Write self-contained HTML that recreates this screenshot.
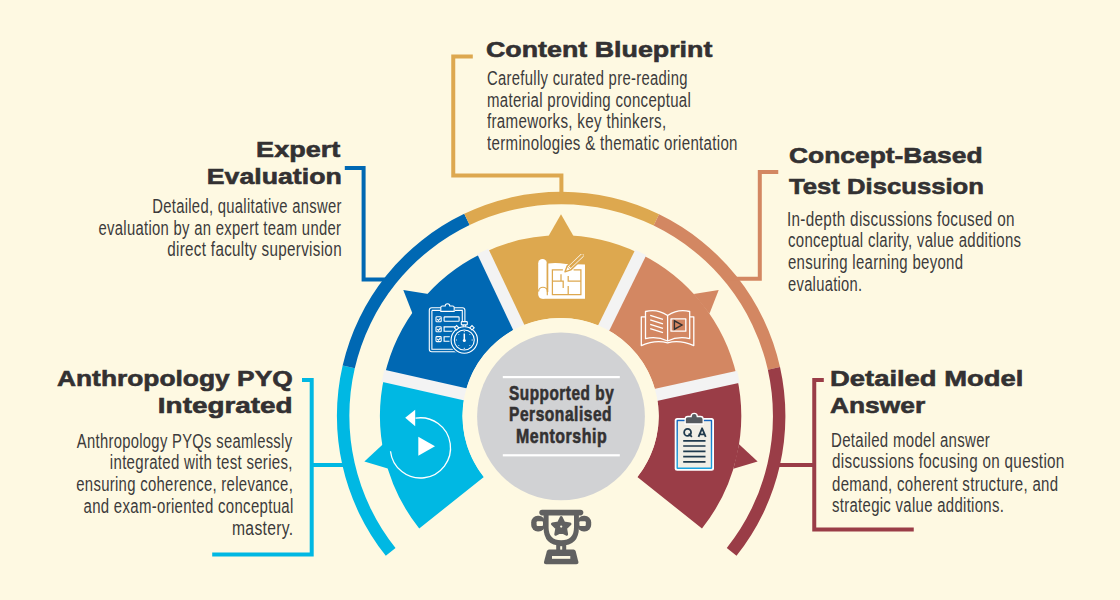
<!DOCTYPE html>
<html><head><meta charset="utf-8"><style>
html,body{margin:0;padding:0;}
body{width:1120px;height:600px;background:#FEF9E2;position:relative;overflow:hidden;font-family:"Liberation Sans",sans-serif;}
div{white-space:nowrap;line-height:1;}
svg{position:absolute;left:0;top:0;}
</style></head><body>
<svg width="1120" height="600" viewBox="0 0 1120 600">
<path d="M385.80,555.78 A224.25,224.25 0 0 1 342.65,365.55 L354.78,368.36 A211.8,211.8 0 0 0 395.53,548.02 Z" fill="#00B8E3"/>
<path d="M342.65,365.55 A224.25,224.25 0 0 1 464.25,213.76 L469.63,224.99 A211.8,211.8 0 0 0 354.78,368.36 Z" fill="#0068B3"/>
<path d="M464.25,213.76 A224.25,224.25 0 0 1 659.10,214.27 L653.66,225.47 A211.8,211.8 0 0 0 469.63,224.99 Z" fill="#DDA84F"/>
<path d="M659.10,214.27 A224.25,224.25 0 0 1 780.00,367.08 L767.85,369.80 A211.8,211.8 0 0 0 653.66,225.47 Z" fill="#D38762"/>
<path d="M780.00,367.08 A224.25,224.25 0 0 1 736.50,555.78 L726.77,548.02 A211.8,211.8 0 0 0 767.85,369.80 Z" fill="#9A3D47"/>
<path d="M419.22,528.46 A180.65,180.65 0 0 1 384.44,375.98 L464.94,394.27 A98.1,98.1 0 0 0 483.83,477.07 Z" fill="#00B8E3"/>
<path d="M388.59,468.73 L364.37,461.40 L382.93,444.18 Z" fill="#00B8E3"/>
<path d="M384.44,375.98 A180.65,180.65 0 0 1 482.26,253.22 L518.06,327.60 A98.1,98.1 0 0 0 464.94,394.27 Z" fill="#0068B3"/>
<path d="M412.58,313.64 L403.29,290.10 L428.30,293.95 Z" fill="#0068B3"/>
<path d="M482.26,253.22 A180.65,180.65 0 0 1 638.94,253.22 L603.14,327.60 A98.1,98.1 0 0 0 518.06,327.60 Z" fill="#DDA84F"/>
<path d="M548.40,236.15 L561.00,214.20 L573.60,236.15 Z" fill="#DDA84F"/>
<path d="M638.94,253.22 A180.65,180.65 0 0 1 736.76,375.98 L656.26,394.27 A98.1,98.1 0 0 0 603.14,327.60 Z" fill="#D38762"/>
<path d="M693.70,293.95 L718.71,290.10 L709.42,313.64 Z" fill="#D38762"/>
<path d="M736.76,375.98 A180.65,180.65 0 0 1 701.98,528.46 L637.37,477.07 A98.1,98.1 0 0 0 656.26,394.27 Z" fill="#9A3D47"/>
<path d="M739.07,444.18 L757.63,461.40 L733.41,468.73 Z" fill="#9A3D47"/>
<path d="M464.55,400.48 L381.61,381.64 L384.34,369.65 L467.28,388.49 Z" fill="#F3F3F3"/>
<path d="M513.54,330.84 L477.20,253.95 L488.32,248.69 L524.66,325.59 Z" fill="#F3F3F3"/>
<path d="M597.80,326.10 L635.21,249.72 L646.26,255.13 L608.84,331.51 Z" fill="#F3F3F3"/>
<path d="M654.10,389.09 L737.16,370.79 L739.80,382.80 L656.75,401.11 Z" fill="#F3F3F3"/>
<circle cx="560.6" cy="416.0" r="98.1" fill="#FEF9E2"/>
<circle cx="561.0" cy="416.4" r="83.9" fill="#D1D2D4"/>
<rect x="502.8" y="376" width="117" height="2.2" fill="#fff"/>
<rect x="502.8" y="454.2" width="117" height="2.2" fill="#fff"/>
<path d="M472.80,56.50 L453.25,56.50 L453.25,175.50 L561.40,175.50 L561.40,196.00" fill="none" stroke="#DDA84F" stroke-width="4" stroke-linejoin="miter" stroke-linecap="butt"/>
<path d="M344.80,168.00 L363.60,168.00 L363.60,279.60 L395.00,279.60" fill="none" stroke="#0068B3" stroke-width="4" stroke-linejoin="miter" stroke-linecap="butt"/>
<path d="M778.25,172.10 L759.80,172.10 L759.80,278.70 L725.00,278.70" fill="none" stroke="#D38762" stroke-width="4" stroke-linejoin="miter" stroke-linecap="butt"/>
<path d="M823.80,380.10 L814.25,380.10 L814.25,529.60 L913.75,529.60" fill="none" stroke="#9A3D47" stroke-width="4" stroke-linejoin="miter" stroke-linecap="butt"/>
<path d="M775.00,465.00 L814.25,465.00" fill="none" stroke="#9A3D47" stroke-width="4" stroke-linejoin="miter" stroke-linecap="butt"/>
<path d="M302.00,380.00 L311.70,380.00 L311.70,554.50 L212.20,554.50" fill="none" stroke="#00B8E3" stroke-width="4" stroke-linejoin="miter" stroke-linecap="butt"/>
<path d="M311.70,465.00 L346.00,465.00" fill="none" stroke="#00B8E3" stroke-width="4" stroke-linejoin="miter" stroke-linecap="butt"/>
<!-- blueprint icon -->
<g>
  <rect x="538.2" y="259" width="8.6" height="39.7" rx="4.2" fill="#fff"/>
  <path d="M548.3,263.5 Q556,262.3 566,264 L585,264.5 V298.7 H542.5 V292 H548.3 Z" fill="#fff"/>
  <path d="M547.3,263 V295.2 M538.6,291.6 A4.35,4.35 0 0 1 547.3,291.6" fill="none" stroke="#DDA84F" stroke-width="1.2"/>
  <g fill="none" stroke="#DDA84F" stroke-width="1.25">
    <path d="M562.9,269.9 H552.4 V294.6 H580.9 V269.9 H573.6"/>
    <path d="M561,274.3 V281 M552.4,281 H563.2 V288"/>
    <path d="M568.2,275.9 V281 H580.9 M568.2,286 V294.6"/>
  </g>
  <path d="M565.00,271.80 L570.77,269.87 L584.22,256.98 L584.30,253.30 L580.62,253.22 L567.17,266.12 Z" fill="#fff" stroke="#DDA84F" stroke-width="1.4" stroke-linejoin="round"/>
  <path d="M570.74,268.10 L583.32,256.04 L583.29,254.27 L581.52,254.16 L568.94,266.23 Z" fill="#DDA84F"/>
  <path d="M570.63,270.01 L567.03,266.26" stroke="#DDA84F" stroke-width="0.9"/>
</g>
<!-- clipboard + stopwatch icon -->
<g fill="none" stroke="#fff" stroke-width="1.1">
  <rect x="429.3" y="307.8" width="35.6" height="44" rx="2.5"/>
  <path d="M431.9,310.4 H440.6 M455,310.4 H462.3 V335 M431.9,310.4 V349.2 H455"/>
  <path d="M440.8,311.4 V307.5 Q440.8,306 442.3,306 H445.2 A2.3,2.3 0 0 1 449.8,306 H452.6 Q454.2,306 454.2,307.5 V311.4 Z" fill="#0068B3"/>
  <rect x="436" y="316.8" width="5.2" height="5" rx="0.8"/>
  <rect x="436" y="326.7" width="5.2" height="5" rx="0.8"/>
  <rect x="436" y="336.6" width="5.2" height="5" rx="0.8"/>
  <path d="M437.2,319.2 L438.5,320.5 L440.5,318 M437.2,329.1 L438.5,330.4 L440.5,327.9 M437.2,339 L438.5,340.3 L440.5,337.8"/>
  <rect x="444.1" y="316.9" width="15" height="4.3" rx="0.5"/>
  <path d="M456,326.9 H444.1 V331.3 H455 M455,336.8 H444.1 V341.2 H455"/>
  <circle cx="464.3" cy="340" r="13.2" fill="#0068B3" stroke="#0068B3" stroke-width="3.5"/>
  <circle cx="464.3" cy="340" r="13.2"/>
  <circle cx="464.3" cy="340" r="10"/>
  <rect x="461.3" y="321.6" width="6" height="3.3" rx="0.6" fill="#0068B3"/>
  <path d="M463.2,325 V326.8 M465.4,325 V326.8"/>
  <path d="M454.4,327.8 l2.2,-2.2 l2.2,2.2 l-2.2,2.2 Z M474.2,327.8 l-2.2,-2.2 l-2.2,2.2 l2.2,2.2 Z" fill="#0068B3"/>
  <path d="M464.3,333.5 V340.5" stroke-width="1.5"/>
  <path d="M464.3,331 V332.2 M464.3,347.8 V349 M455.8,340 H457 M471.6,340 H472.8 M458.3,334 l0.8,0.8 M470.3,334 l-0.8,0.8 M458.3,346 l0.8,-0.8 M470.3,346 l-0.8,-0.8" stroke-width="0.9"/>
</g>
<circle cx="464.3" cy="340.5" r="1.5" fill="#fff"/>
<!-- book icon -->
<g fill="none" stroke="#fff" stroke-width="1.3" stroke-linejoin="round">
  <path d="M645.5,316.8 H641.3 V345.6 Q655,339.5 667.6,342.8 Q680,339.5 693.8,345.6 V316.8 H689.7"/>
  <path d="M645.5,311.5 Q657,308.5 667.6,315.5 Q678,308.5 689.7,311.5 V338.6 Q678,336 667.6,341 Q657,336 645.5,338.6 Z"/>
  <path d="M667.6,315.5 V341"/>
  <path d="M650.2,315.3 L663,319.3 M650.2,319.8 L663,323.8 M650.2,324.3 L663,328.3 M650.2,328.6 L663,332.6"/>
  <rect x="671" y="318.9" width="14.8" height="12.3"/>
</g>
<path d="M674.4,320.8 V329.2 L682,325 Z" fill="none" stroke="#333132" stroke-width="1.4" stroke-linejoin="miter"/>
<!-- QA clipboard icon -->
<g>
  <rect x="674.7" y="418" width="39.3" height="52.7" rx="2.5" fill="#fff"/>
  <defs><linearGradient id="qg" x1="0" y1="0" x2="0" y2="1"><stop offset="0" stop-color="#1565BF"/><stop offset="1" stop-color="#1AA3E0"/></linearGradient></defs><rect x="676.5" y="419.8" width="35.7" height="49.1" rx="1" fill="url(#qg)"/>
  <rect x="677.9" y="421.2" width="32.9" height="46.3" fill="#F1EFE6"/>
  <path d="M685.2,424 V419.2 Q685.2,416.5 687.9,416.5 H691.1 A3.1,3.1 0 0 1 697.3,416.5 H700.5 Q703.2,416.5 703.2,419.2 V424 Z" fill="#555A5F" stroke="#fff" stroke-width="1.3"/>
  <circle cx="687.6" cy="432.4" r="3.45" fill="none" stroke="#1F3A4D" stroke-width="1.8"/>
  <path d="M688.6,433.6 L691.9,436.9" stroke="#1F3A4D" stroke-width="1.7"/>
  <path d="M698.5,436.8 L702.1,428.3 L705.7,436.8 M699.9,434.3 H704.3" fill="none" stroke="#1F3A4D" stroke-width="1.8" stroke-linejoin="round"/>
  <g stroke="#1F3A4D" stroke-width="1.7">
    <path d="M683.2,440.8 H705.5 M683.2,446 H705.5 M683.2,451.3 H705.5 M683.2,456.6 H705.5 M683.2,461.9 H705.5"/>
  </g>
</g>
<!-- replay icon -->
<g>
  <path d="M415.5,418.2 A30.1,30.1 0 1 1 390.5,451.2" fill="none" stroke="#fff" stroke-width="1.3"/>
  <path d="M405.2,417.8 L415.2,409.7 V426.2 Z" fill="#fff"/>
  <path d="M418.3,436.7 L435,446.2 L418.3,455.8 Z" fill="#fff"/>
</g>
<!-- trophy -->
<g fill="#616161">
  <rect x="539.3" y="509.8" width="44" height="5.6" rx="2.8"/>
  <path d="M543.6,514 H578.9 V527.5 Q578.9,545.6 561.2,545.6 Q543.6,545.6 543.6,527.5 Z"/>
  <rect x="531.2" y="515.8" width="14" height="15.6" rx="6.5"/>
  <rect x="577.2" y="515.8" width="14" height="15.6" rx="6.5"/>
  <rect x="556.2" y="543" width="10" height="8.5"/>
  <path d="M549,549.5 H573.6 Q575,549.5 575.6,551 L578.3,561.5 Q579,564.3 576.2,564.3 H546.2 Q543.4,564.3 544.1,561.5 L546.9,551 Q547.5,549.5 549,549.5 Z"/>
</g>
<g fill="#FEF9E2">
  <path d="M548.6,515.4 H574 V527.5 Q574,540.3 561.2,540.3 Q548.6,540.3 548.6,527.5 Z"/>
  <rect x="536.6" y="521.2" width="6.4" height="4.9" rx="1"/>
  <rect x="579.4" y="521.2" width="6.4" height="4.9" rx="1"/>
  <rect x="560.2" y="546.2" width="2" height="3.4"/>
  <rect x="552" y="556" width="18.3" height="2.8"/>
</g>
<path d="M561.20,517.60 L563.90,523.08 L569.95,523.96 L565.57,528.22 L566.61,534.24 L561.20,531.40 L555.79,534.24 L556.83,528.22 L552.45,523.96 L558.50,523.08 Z" fill="#616161" stroke="#616161" stroke-width="3" stroke-linejoin="round"/>
<circle cx="561.2" cy="526.6" r="1.1" fill="#FEF9E2"/>

</svg>
<div style="position:absolute;top:38.00px;left:486.21px;transform-origin:0 0;font-size:22.9px;font-weight:700;color:#333132;transform:scaleX(1.1711);letter-spacing:0px;-webkit-text-stroke:0.6px #333132;">Content Blueprint</div>
<div style="position:absolute;top:138.00px;right:779.40px;transform-origin:100% 0;font-size:22.9px;font-weight:700;color:#333132;transform:scaleX(1.1810);letter-spacing:0px;-webkit-text-stroke:0.6px #333132;">Expert</div>
<div style="position:absolute;top:165.00px;right:778.53px;transform-origin:100% 0;font-size:22.9px;font-weight:700;color:#333132;transform:scaleX(1.1659);letter-spacing:0px;-webkit-text-stroke:0.6px #333132;">Evaluation</div>
<div style="position:absolute;top:144.00px;left:788.63px;transform-origin:0 0;font-size:22.9px;font-weight:700;color:#333132;transform:scaleX(1.1529);letter-spacing:0px;-webkit-text-stroke:0.6px #333132;">Concept-Based</div>
<div style="position:absolute;top:175.00px;left:789.09px;transform-origin:0 0;font-size:22.9px;font-weight:700;color:#333132;transform:scaleX(1.1214);letter-spacing:0px;-webkit-text-stroke:0.6px #333132;">Test Discussion</div>
<div style="position:absolute;top:367.00px;right:827.30px;transform-origin:100% 0;font-size:22.9px;font-weight:700;color:#333132;transform:scaleX(1.1516);letter-spacing:0px;-webkit-text-stroke:0.6px #333132;">Anthropology PYQ</div>
<div style="position:absolute;top:394.00px;right:827.60px;transform-origin:100% 0;font-size:22.9px;font-weight:700;color:#333132;transform:scaleX(1.2181);letter-spacing:0px;-webkit-text-stroke:0.6px #333132;">Integrated</div>
<div style="position:absolute;top:367.00px;left:829.90px;transform-origin:0 0;font-size:22.9px;font-weight:700;color:#333132;transform:scaleX(1.1971);letter-spacing:0px;-webkit-text-stroke:0.6px #333132;">Detailed Model</div>
<div style="position:absolute;top:394.00px;left:829.71px;transform-origin:0 0;font-size:22.9px;font-weight:700;color:#333132;transform:scaleX(1.1505);letter-spacing:0px;-webkit-text-stroke:0.6px #333132;">Answer</div>
<div style="position:absolute;top:69.00px;left:486.64px;transform-origin:0 0;font-size:19.5px;font-weight:400;color:#3C3B3B;transform:scaleX(0.7600);letter-spacing:0.4px;">Carefully curated pre-reading</div>
<div style="position:absolute;top:91.00px;left:487.18px;transform-origin:0 0;font-size:19.5px;font-weight:400;color:#3C3B3B;transform:scaleX(0.7696);letter-spacing:0.4px;">material providing conceptual</div>
<div style="position:absolute;top:112.00px;left:486.79px;transform-origin:0 0;font-size:19.5px;font-weight:400;color:#3C3B3B;transform:scaleX(0.7764);letter-spacing:0.4px;">frameworks, key thinkers,</div>
<div style="position:absolute;top:134.00px;left:486.87px;transform-origin:0 0;font-size:19.5px;font-weight:400;color:#3C3B3B;transform:scaleX(0.7732);letter-spacing:0.4px;">terminologies &amp; thematic orientation</div>
<div style="position:absolute;top:197.00px;right:778.67px;transform-origin:100% 0;font-size:19.5px;font-weight:400;color:#3C3B3B;transform:scaleX(0.7588);letter-spacing:0.4px;">Detailed, qualitative answer</div>
<div style="position:absolute;top:219.00px;right:778.74px;transform-origin:100% 0;font-size:19.5px;font-weight:400;color:#3C3B3B;transform:scaleX(0.7605);letter-spacing:0.4px;">evaluation by an expert team under</div>
<div style="position:absolute;top:240.00px;right:778.16px;transform-origin:100% 0;font-size:19.5px;font-weight:400;color:#3C3B3B;transform:scaleX(0.7800);letter-spacing:0.4px;">direct faculty supervision</div>
<div style="position:absolute;top:210.00px;left:786.99px;transform-origin:0 0;font-size:19.5px;font-weight:400;color:#3C3B3B;transform:scaleX(0.7830);letter-spacing:0.4px;">In-depth discussions focused on</div>
<div style="position:absolute;top:231.00px;left:788.03px;transform-origin:0 0;font-size:19.5px;font-weight:400;color:#3C3B3B;transform:scaleX(0.7673);letter-spacing:0.4px;">conceptual clarity, value additions</div>
<div style="position:absolute;top:253.00px;left:788.03px;transform-origin:0 0;font-size:19.5px;font-weight:400;color:#3C3B3B;transform:scaleX(0.7668);letter-spacing:0.4px;">ensuring learning beyond</div>
<div style="position:absolute;top:275.00px;left:788.04px;transform-origin:0 0;font-size:19.5px;font-weight:400;color:#3C3B3B;transform:scaleX(0.7543);letter-spacing:0.4px;">evaluation.</div>
<div style="position:absolute;top:432.00px;right:827.87px;transform-origin:100% 0;font-size:19.5px;font-weight:400;color:#3C3B3B;transform:scaleX(0.7578);letter-spacing:0.4px;">Anthropology PYQs seamlessly</div>
<div style="position:absolute;top:453.00px;right:826.96px;transform-origin:100% 0;font-size:19.5px;font-weight:400;color:#3C3B3B;transform:scaleX(0.7693);letter-spacing:0.4px;">integrated with test series,</div>
<div style="position:absolute;top:475.00px;right:827.27px;transform-origin:100% 0;font-size:19.5px;font-weight:400;color:#3C3B3B;transform:scaleX(0.7634);letter-spacing:0.4px;">ensuring coherence, relevance,</div>
<div style="position:absolute;top:497.00px;right:826.72px;transform-origin:100% 0;font-size:19.5px;font-weight:400;color:#3C3B3B;transform:scaleX(0.7679);letter-spacing:0.4px;">and exam-oriented conceptual</div>
<div style="position:absolute;top:519.00px;right:826.41px;transform-origin:100% 0;font-size:19.5px;font-weight:400;color:#3C3B3B;transform:scaleX(0.8044);letter-spacing:0.4px;">mastery.</div>
<div style="position:absolute;top:431.00px;left:831.04px;transform-origin:0 0;font-size:19.5px;font-weight:400;color:#3C3B3B;transform:scaleX(0.7695);letter-spacing:0.4px;">Detailed model answer</div>
<div style="position:absolute;top:452.00px;left:831.61px;transform-origin:0 0;font-size:19.5px;font-weight:400;color:#3C3B3B;transform:scaleX(0.7810);letter-spacing:0.4px;">discussions focusing on question</div>
<div style="position:absolute;top:475.00px;left:831.62px;transform-origin:0 0;font-size:19.5px;font-weight:400;color:#3C3B3B;transform:scaleX(0.7695);letter-spacing:0.4px;">demand, coherent structure, and</div>
<div style="position:absolute;top:496.00px;left:831.82px;transform-origin:0 0;font-size:19.5px;font-weight:400;color:#3C3B3B;transform:scaleX(0.7650);letter-spacing:0.4px;">strategic value additions.</div>
<div style="position:absolute;top:383.00px;left:508.77px;transform-origin:0 0;font-size:20px;font-weight:700;color:#333132;transform:scaleX(0.7665);letter-spacing:0.7px;-webkit-text-stroke:0.6px #333132;">Supported by</div>
<div style="position:absolute;top:404.00px;left:509.43px;transform-origin:0 0;font-size:20px;font-weight:700;color:#333132;transform:scaleX(0.7761);letter-spacing:0.7px;-webkit-text-stroke:0.6px #333132;">Personalised</div>
<div style="position:absolute;top:426.00px;left:516.01px;transform-origin:0 0;font-size:20px;font-weight:700;color:#333132;transform:scaleX(0.7949);letter-spacing:0.7px;-webkit-text-stroke:0.6px #333132;">Mentorship</div>
</body></html>
